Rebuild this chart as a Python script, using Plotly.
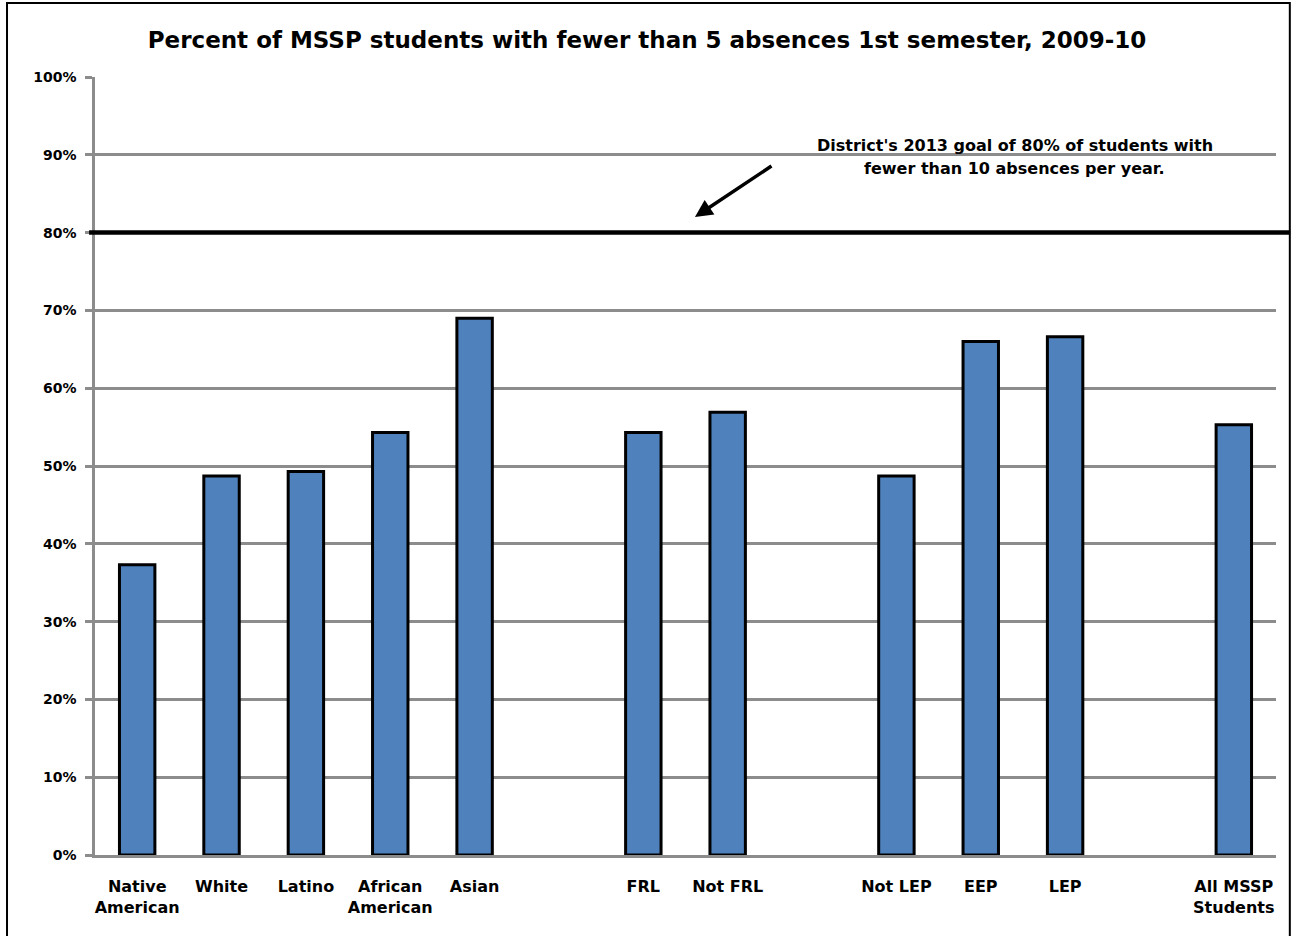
import plotly.graph_objects as go

# Student groups, with blank spacer slots separating the three groupings
categories = ["Native<br>American", "White", "Latino", "African<br>American", "Asian",
              " ", "FRL", "Not FRL", "  ", "Not LEP", "EEP", "LEP", "   ", "All MSSP<br>Students"]
pct_few_absences = [37.3, 48.7, 49.3, 54.3, 69.0,
                    None, 54.3, 56.9, None, 48.7, 66.0, 66.6, None, 55.3]

goal_pct = 80
y_ticks = list(range(0, 101, 10))
y_labels = [f"{v}%" for v in y_ticks]
note_lines = ["District's 2013 goal of 80% of students with",
              "fewer than 10 absences per year."]

FONT = "DejaVu Sans"
GRID = "#8c8c8c"

fig = go.Figure()
fig.add_trace(go.Bar(
    x=categories,
    y=pct_few_absences,
    marker=dict(color="#4F81BD", line=dict(color="black", width=3)),
    width=0.42,
    showlegend=False,
    hoverinfo="x+y",
))

# District goal line
fig.add_shape(type="line", xref="paper", yref="y",
              x0=-0.005, x1=1.012, y0=goal_pct, y1=goal_pct,
              line=dict(color="black", width=4.5), layer="above")

# Outer frame
fig.add_shape(type="rect", xref="paper", yref="paper",
              x0=-0.0745, x1=1.0117, y0=-0.12, y1=1.095,
              line=dict(color="black", width=2), layer="above")

# Goal note, one annotation per line
for i, line in enumerate(note_lines):
    fig.add_annotation(
        text=line, xref="paper", yref="paper",
        x=0.779, y=(855 - 145 - 23 * i) / 778,
        showarrow=False, xanchor="center", yanchor="middle",
        font=dict(family=FONT, size=16, color="black", weight="bold"),
    )
fig.add_annotation(
    x=0.508, y=82.0, xref="paper", yref="y", text="",
    showarrow=True, ax=78, ay=-52, arrowhead=2, arrowsize=1.0,
    arrowwidth=3.5, arrowcolor="black",
)

fig.update_layout(
    width=1294, height=936,
    margin=dict(l=95, r=18, t=77, b=81),
    paper_bgcolor="white", plot_bgcolor="white",
    title=dict(text="Percent of MSSP students with fewer than 5 absences 1st semester, 2009-10",
               x=0.5, xanchor="center", y=0.957, yanchor="middle",
               font=dict(family=FONT, size=23, color="black", weight="bold")),
    bargap=0.58,
    font=dict(family=FONT, size=15, color="black"),
)

fig.update_yaxes(
    range=[0, 100], tickvals=y_ticks, ticktext=y_labels,
    showgrid=True, gridcolor=GRID, gridwidth=2.5,
    showline=True, linecolor=GRID, linewidth=2.5,
    ticks="outside", ticklen=7, tickcolor=GRID, tickwidth=2.5,
    ticklabelstandoff=6,
    tickfont=dict(family=FONT, size=14, color="black", weight="bold"),
    zeroline=False, fixedrange=True,
)
fig.update_xaxes(
    categoryorder="array", categoryarray=categories,
    showline=True, linecolor=GRID, linewidth=2.5,
    ticks="", ticklabelstandoff=15,
    tickfont=dict(family=FONT, size=16, color="black", weight="bold"),
    fixedrange=True,
)

fig.write_html("out.html")
